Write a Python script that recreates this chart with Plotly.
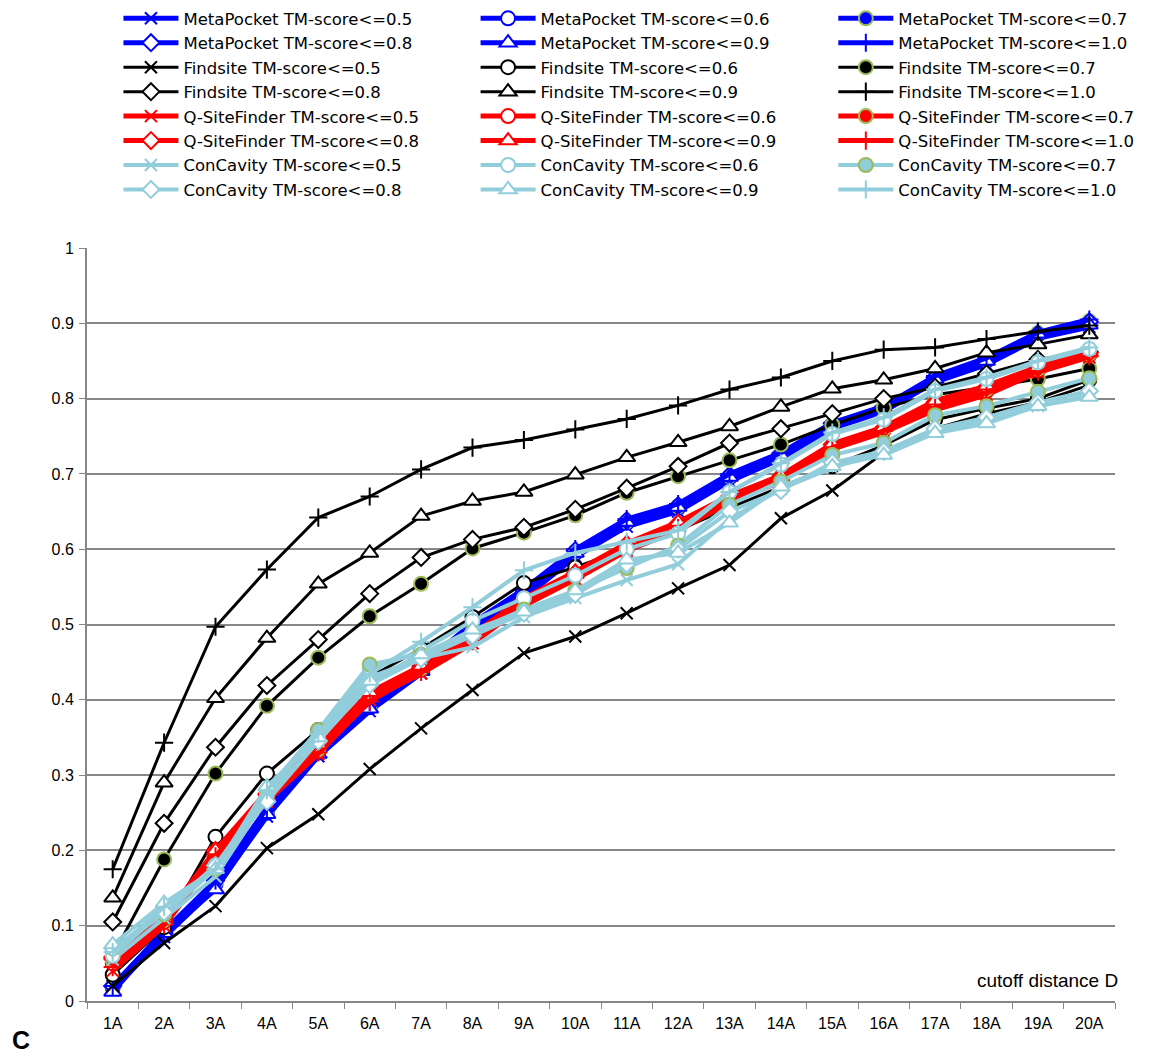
import plotly.graph_objects as go

categories = ["1A", "2A", "3A", "4A", "5A", "6A", "7A", "8A", "9A", "10A",
              "11A", "12A", "13A", "14A", "15A", "16A", "17A", "18A", "19A", "20A"]
y_ticks = [0, 0.1, 0.2, 0.3, 0.4, 0.5, 0.6, 0.7, 0.8, 0.9, 1]

# MetaPocket
mp_05 = [0.015, 0.085, 0.150, 0.245, 0.325, 0.385, 0.435, 0.490, 0.535, 0.590, 0.630, 0.650, 0.690, 0.720, 0.760, 0.783, 0.822, 0.845, 0.880, 0.895]
mp_06 = [0.018, 0.090, 0.155, 0.250, 0.330, 0.390, 0.440, 0.495, 0.540, 0.595, 0.635, 0.655, 0.695, 0.724, 0.764, 0.786, 0.826, 0.850, 0.885, 0.900]
mp_07 = [0.020, 0.092, 0.158, 0.253, 0.332, 0.393, 0.442, 0.500, 0.545, 0.597, 0.637, 0.657, 0.697, 0.726, 0.766, 0.788, 0.828, 0.852, 0.887, 0.903]
mp_08 = [0.020, 0.090, 0.160, 0.255, 0.333, 0.395, 0.443, 0.500, 0.545, 0.598, 0.638, 0.658, 0.698, 0.727, 0.767, 0.789, 0.828, 0.852, 0.886, 0.902]
mp_09 = [0.012, 0.090, 0.148, 0.248, 0.328, 0.388, 0.438, 0.495, 0.540, 0.595, 0.636, 0.656, 0.696, 0.725, 0.765, 0.787, 0.826, 0.850, 0.886, 0.898]
mp_10 = [0.020, 0.093, 0.160, 0.256, 0.335, 0.397, 0.445, 0.502, 0.547, 0.600, 0.640, 0.660, 0.700, 0.728, 0.768, 0.790, 0.830, 0.854, 0.888, 0.905]

# Findsite
fs_05 = [0.020, 0.077, 0.126, 0.203, 0.248, 0.308, 0.362, 0.413, 0.462, 0.484, 0.515, 0.548, 0.579, 0.641, 0.678, 0.728, 0.760, 0.780, 0.795, 0.818]
fs_06 = [0.035, 0.098, 0.218, 0.302, 0.360, 0.430, 0.468, 0.510, 0.555, 0.576, 0.600, 0.625, 0.655, 0.683, 0.710, 0.738, 0.772, 0.787, 0.800, 0.825]
fs_07 = [0.060, 0.188, 0.302, 0.392, 0.456, 0.511, 0.554, 0.601, 0.622, 0.645, 0.675, 0.697, 0.718, 0.739, 0.765, 0.788, 0.805, 0.815, 0.826, 0.840]
fs_08 = [0.105, 0.236, 0.337, 0.419, 0.480, 0.541, 0.589, 0.613, 0.629, 0.653, 0.681, 0.710, 0.741, 0.760, 0.780, 0.800, 0.815, 0.833, 0.852, 0.862]
fs_09 = [0.137, 0.290, 0.402, 0.482, 0.554, 0.595, 0.644, 0.664, 0.676, 0.699, 0.722, 0.742, 0.763, 0.789, 0.813, 0.825, 0.840, 0.861, 0.872, 0.885]
fs_10 = [0.175, 0.343, 0.497, 0.573, 0.642, 0.670, 0.706, 0.735, 0.745, 0.759, 0.773, 0.791, 0.812, 0.828, 0.850, 0.865, 0.868, 0.879, 0.889, 0.897]

# Q-SiteFinder
qs_05 = [0.040, 0.100, 0.190, 0.265, 0.328, 0.400, 0.435, 0.475, 0.525, 0.560, 0.598, 0.625, 0.662, 0.690, 0.733, 0.755, 0.785, 0.805, 0.835, 0.855]
qs_06 = [0.050, 0.105, 0.195, 0.270, 0.332, 0.405, 0.440, 0.480, 0.530, 0.565, 0.602, 0.630, 0.666, 0.694, 0.736, 0.758, 0.790, 0.810, 0.838, 0.858]
qs_07 = [0.055, 0.108, 0.198, 0.272, 0.335, 0.407, 0.442, 0.483, 0.532, 0.567, 0.605, 0.632, 0.668, 0.696, 0.738, 0.760, 0.793, 0.813, 0.840, 0.860]
qs_08 = [0.058, 0.110, 0.200, 0.275, 0.337, 0.408, 0.444, 0.485, 0.533, 0.568, 0.606, 0.634, 0.670, 0.697, 0.739, 0.761, 0.795, 0.815, 0.841, 0.861]
qs_09 = [0.060, 0.110, 0.200, 0.278, 0.340, 0.410, 0.445, 0.487, 0.535, 0.570, 0.608, 0.636, 0.671, 0.698, 0.740, 0.762, 0.797, 0.817, 0.842, 0.862]
qs_10 = [0.045, 0.102, 0.192, 0.268, 0.330, 0.398, 0.437, 0.478, 0.527, 0.562, 0.600, 0.628, 0.664, 0.692, 0.735, 0.757, 0.788, 0.808, 0.836, 0.856]

# ConCavity
cc_05 = [0.055, 0.110, 0.165, 0.270, 0.345, 0.430, 0.455, 0.470, 0.510, 0.535, 0.559, 0.580, 0.640, 0.680, 0.708, 0.730, 0.758, 0.770, 0.790, 0.805]
cc_06 = [0.060, 0.120, 0.180, 0.275, 0.355, 0.440, 0.465, 0.505, 0.535, 0.565, 0.600, 0.621, 0.676, 0.712, 0.753, 0.772, 0.810, 0.826, 0.848, 0.866]
cc_07 = [0.070, 0.115, 0.175, 0.280, 0.360, 0.447, 0.460, 0.490, 0.520, 0.545, 0.575, 0.605, 0.659, 0.690, 0.725, 0.741, 0.778, 0.790, 0.809, 0.827]
cc_08 = [0.070, 0.118, 0.180, 0.265, 0.345, 0.420, 0.455, 0.485, 0.515, 0.540, 0.580, 0.600, 0.650, 0.678, 0.715, 0.730, 0.760, 0.775, 0.795, 0.810]
cc_09 = [0.075, 0.130, 0.175, 0.285, 0.350, 0.425, 0.460, 0.493, 0.517, 0.545, 0.586, 0.595, 0.635, 0.683, 0.710, 0.725, 0.754, 0.767, 0.790, 0.802]
cc_10 = [0.065, 0.125, 0.175, 0.280, 0.355, 0.435, 0.477, 0.523, 0.572, 0.595, 0.610, 0.625, 0.676, 0.714, 0.755, 0.775, 0.812, 0.828, 0.850, 0.868]

methods = [
    ("MetaPocket", "#0000FF", 5, [mp_05, mp_06, mp_07, mp_08, mp_09, mp_10]),
    ("Findsite", "#000000", 3, [fs_05, fs_06, fs_07, fs_08, fs_09, fs_10]),
    ("Q-SiteFinder", "#FF0000", 5, [qs_05, qs_06, qs_07, qs_08, qs_09, qs_10]),
    ("ConCavity", "#92CDDC", 4, [cc_05, cc_06, cc_07, cc_08, cc_09, cc_10]),
]
thresholds = ["0.5", "0.6", "0.7", "0.8", "0.9", "1.0"]
legend_for = ["legend", "legend2", "legend3", "legend", "legend2", "legend3"]

fig = go.Figure()
for name, color, lw, series in methods:
    for i, (thr, vals) in enumerate(zip(thresholds, series)):
        if thr == "0.5":
            marker = dict(symbol="x-thin", size=12, line=dict(color=color, width=2))
        elif thr == "0.6":
            marker = dict(symbol="circle", size=14, color="white", line=dict(color=color, width=2))
        elif thr == "0.7":
            marker = dict(symbol="circle", size=14, color=color, line=dict(color="#9BBB59", width=2))
        elif thr == "0.8":
            marker = dict(symbol="diamond", size=13, color="white", line=dict(color=color, width=2))
        elif thr == "0.9":
            marker = dict(symbol="triangle-up", size=15, color="white", line=dict(color=color, width=2))
        else:
            marker = dict(symbol="cross-thin", size=13, line=dict(color=color, width=2))
        fig.add_trace(go.Scatter(
            x=categories, y=vals, mode="lines+markers",
            name=f"{name} TM-score<={thr}",
            line=dict(color=color, width=lw),
            marker=marker,
            legend=legend_for[i],
        ))

leg_common = dict(
    yref="container", yanchor="top", y=0.999,
    bgcolor="rgba(0,0,0,0)", font=dict(family="DejaVu Sans", size=16.5, color="#000"),
    itemwidth=55, tracegroupgap=0, traceorder="normal",
)
fig.update_layout(
    width=1149, height=1059,
    margin=dict(l=87, r=34, t=248, b=58),
    paper_bgcolor="white", plot_bgcolor="white",
    showlegend=True,
    legend=dict(x=0.0306, **leg_common),
    legend2=dict(x=0.378, **leg_common),
    legend3=dict(x=0.726, **leg_common),
    xaxis=dict(
        type="category", range=[-0.5, 19.5], tickson="boundaries",
        ticks="outside", ticklen=6, ticklabelstandoff=7,
        tickcolor="#868686", showline=True, linecolor="#868686", linewidth=2,
        showgrid=False, tickfont=dict(family="Liberation Sans", size=16, color="#000"),
    ),
    yaxis=dict(
        range=[0, 1], tickvals=y_ticks, ticktext=[str(v) for v in y_ticks],
        ticks="outside", ticklen=6, tickcolor="#868686", ticklabelstandoff=2,
        showline=True, linecolor="#868686", linewidth=2,
        showgrid=True, gridcolor="#868686", gridwidth=2, zeroline=False,
        tickfont=dict(family="Liberation Sans", size=16, color="#000"),
    ),
    annotations=[
        dict(text="cutoff distance D", xref="paper", yref="paper", x=1.005, y=0.011,
             xanchor="right", yanchor="bottom", showarrow=False,
             font=dict(family="Liberation Sans", size=19, color="#000")),
        dict(text="<b>C</b>", xref="paper", yref="paper", x=-0.064, y=-0.052,
             xanchor="center", yanchor="middle", showarrow=False,
             font=dict(family="Liberation Sans", size=25, color="#000")),
    ],
)
fig.write_html("out.html")
